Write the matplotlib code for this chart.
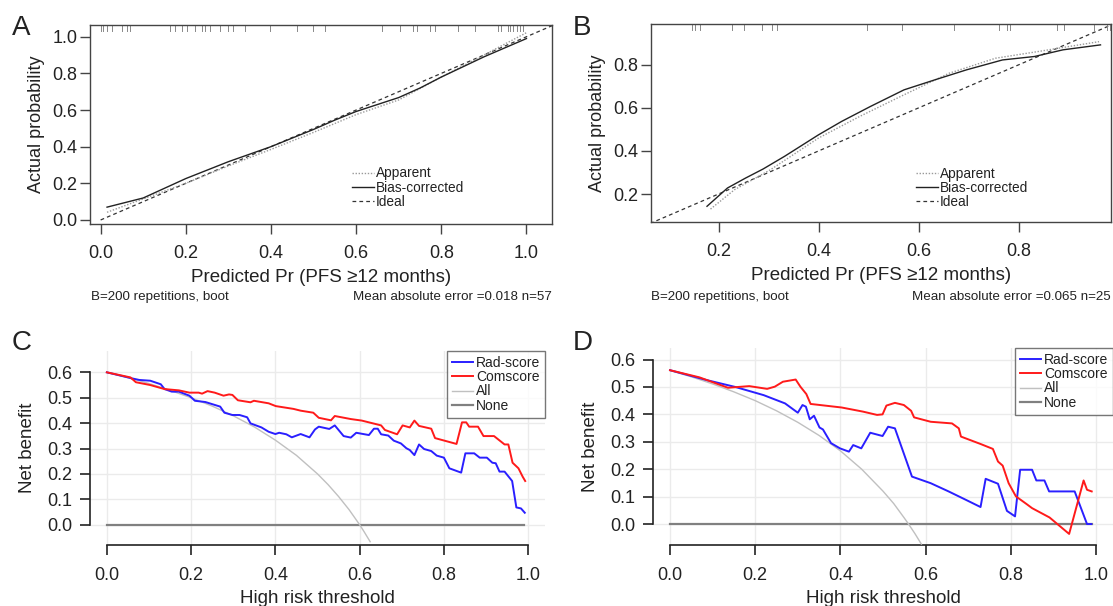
import matplotlib
matplotlib.use("Agg")
import matplotlib.pyplot as plt
import numpy as np

plt.rcParams['font.family'] = ['Liberation Sans', 'DejaVu Sans']

# ---- panel A: calibration, training set
a_rug = [0.002, 0.006, 0.014, 0.026, 0.049, 0.061, 0.069, 0.163, 0.174, 0.19, 0.202,
         0.221, 0.237, 0.245, 0.257, 0.28, 0.3, 0.311, 0.339, 0.397, 0.46, 0.499, 0.527,
         0.66, 0.703, 0.734, 0.742, 0.773, 0.785, 0.84, 0.879, 0.933, 0.941, 0.957,
         0.961, 0.969, 0.977, 0.984, 0.992]
a_bias_x = [0.015, 0.1, 0.2, 0.3, 0.4, 0.5, 0.55, 0.6, 0.65, 0.7, 0.75, 0.8, 0.9, 1.0]
a_bias_y = [0.07, 0.12, 0.226, 0.318, 0.40, 0.494, 0.545, 0.592, 0.63, 0.668, 0.72, 0.78, 0.89, 0.99]
a_app_x = [0.015, 0.1, 0.2, 0.3, 0.4, 0.5, 0.6, 0.7, 0.8, 0.9, 1.0]
a_app_y = [0.042, 0.115, 0.2, 0.295, 0.385, 0.478, 0.575, 0.655, 0.78, 0.9, 1.022]

# ---- panel B: calibration, validation set
b_rug = [0.146, 0.153, 0.163, 0.226, 0.25, 0.286, 0.306, 0.316, 0.496, 0.566, 0.67,
         0.76, 0.776, 0.783, 0.876, 0.89, 0.95, 0.976, 0.983]
b_bias_x = [0.177, 0.218, 0.254, 0.289, 0.332, 0.4, 0.446, 0.504, 0.571, 0.632, 0.696, 0.768, 0.832, 0.889, 0.964]
b_bias_y = [0.143, 0.228, 0.274, 0.316, 0.375, 0.475, 0.537, 0.607, 0.684, 0.73, 0.777, 0.823, 0.839, 0.87, 0.893]
b_app_x = [0.184, 0.232, 0.304, 0.4, 0.482, 0.571, 0.661, 0.754, 0.839, 0.961]
b_app_y = [0.13, 0.22, 0.313, 0.46, 0.56, 0.661, 0.761, 0.831, 0.862, 0.908]

# ---- panel C: decision curve, training set
c_rad_x = [0, 0.06, 0.077, 0.103, 0.128, 0.137, 0.154, 0.171, 0.196, 0.209, 0.234, 0.269, 0.279,
           0.298, 0.315, 0.333, 0.341, 0.367, 0.384, 0.4, 0.409, 0.426, 0.439, 0.46, 0.481, 0.494,
           0.503, 0.528, 0.541, 0.562, 0.579, 0.592, 0.622, 0.634, 0.643, 0.651, 0.668, 0.681,
           0.698, 0.711, 0.719, 0.73, 0.741, 0.753, 0.77, 0.783, 0.8, 0.813, 0.841, 0.851, 0.872,
           0.885, 0.902, 0.915, 0.923, 0.932, 0.944, 0.962, 0.972, 0.983, 0.992]
c_rad_y = [0.6, 0.576, 0.57, 0.567, 0.553, 0.534, 0.524, 0.524, 0.508, 0.488, 0.483, 0.465, 0.441,
           0.432, 0.432, 0.423, 0.399, 0.383, 0.366, 0.357, 0.362, 0.356, 0.344, 0.357, 0.344, 0.375,
           0.386, 0.377, 0.391, 0.349, 0.343, 0.362, 0.353, 0.378, 0.378, 0.356, 0.351, 0.331,
           0.32, 0.301, 0.294, 0.274, 0.316, 0.298, 0.29, 0.272, 0.264, 0.222, 0.205, 0.281, 0.281,
           0.264, 0.264, 0.244, 0.242, 0.209, 0.209, 0.172, 0.068, 0.064, 0.047]
c_com_x = [0, 0.056, 0.069, 0.103, 0.137, 0.171, 0.196, 0.218, 0.226, 0.239, 0.256, 0.277, 0.29,
           0.298, 0.311, 0.341, 0.349, 0.384, 0.401, 0.443, 0.46, 0.49, 0.503, 0.532, 0.541, 0.579,
           0.605, 0.651, 0.66, 0.689, 0.702, 0.719, 0.73, 0.741, 0.77, 0.779, 0.83, 0.843, 0.853,
           0.86, 0.881, 0.894, 0.919, 0.944, 0.953, 0.963, 0.977, 0.987, 0.993]
c_com_y = [0.6, 0.58, 0.561, 0.55, 0.534, 0.529, 0.52, 0.52, 0.516, 0.526, 0.52, 0.508, 0.513,
           0.511, 0.49, 0.482, 0.488, 0.478, 0.467, 0.456, 0.449, 0.441, 0.421, 0.411, 0.428, 0.416,
           0.41, 0.391, 0.373, 0.356, 0.391, 0.383, 0.41, 0.389, 0.378, 0.341, 0.318, 0.403, 0.403,
           0.386, 0.386, 0.349, 0.349, 0.316, 0.316, 0.244, 0.222, 0.189, 0.172]
c_all_x = [0, 0.05, 0.1, 0.15, 0.2, 0.25, 0.3, 0.35, 0.4, 0.45, 0.5, 0.525, 0.55, 0.575, 0.6, 0.61, 0.625]
c_all_y = [0.6, 0.579, 0.556, 0.529, 0.5, 0.467, 0.429, 0.385, 0.333, 0.273, 0.2, 0.158, 0.111, 0.059,
           0.0, -0.026, -0.067]

# ---- panel D: decision curve, validation set
d_rad_x = [0, 0.086, 0.153, 0.22, 0.27, 0.3, 0.311, 0.319, 0.328, 0.338, 0.351, 0.359, 0.378, 0.399,
           0.42, 0.43, 0.449, 0.47, 0.499, 0.512, 0.528, 0.568, 0.612, 0.654, 0.695, 0.729, 0.741,
           0.77, 0.791, 0.81, 0.822, 0.85, 0.86, 0.879, 0.89, 0.95, 0.979, 0.989]
d_rad_y = [0.561, 0.525, 0.5, 0.47, 0.44, 0.406, 0.434, 0.428, 0.382, 0.395, 0.352, 0.345, 0.295,
           0.276, 0.264, 0.288, 0.276, 0.333, 0.321, 0.355, 0.349, 0.173, 0.149, 0.119, 0.088, 0.062,
           0.165, 0.147, 0.048, 0.028, 0.198, 0.198, 0.159, 0.159, 0.119, 0.119, 0.0, 0.0]
d_com_x = [0, 0.069, 0.136, 0.186, 0.228, 0.246, 0.265, 0.295, 0.306, 0.32, 0.33, 0.403, 0.453, 0.486,
           0.499, 0.508, 0.528, 0.549, 0.566, 0.573, 0.612, 0.662, 0.678, 0.683, 0.729, 0.758, 0.77,
           0.781, 0.795, 0.812, 0.837, 0.85, 0.891, 0.937, 0.971, 0.979, 0.99]
d_com_y = [0.561, 0.535, 0.497, 0.503, 0.493, 0.501, 0.519, 0.527, 0.501, 0.474, 0.438, 0.425, 0.41,
           0.398, 0.4, 0.432, 0.442, 0.434, 0.413, 0.389, 0.373, 0.367, 0.349, 0.319, 0.292, 0.274,
           0.228, 0.213, 0.149, 0.101, 0.073, 0.058, 0.024, -0.036, 0.159, 0.125, 0.119]
d_all_x = [0, 0.05, 0.1, 0.15, 0.2, 0.25, 0.3, 0.35, 0.4, 0.45, 0.5, 0.525, 0.55, 0.56, 0.575, 0.59]
d_all_y = [0.56, 0.537, 0.511, 0.482, 0.45, 0.413, 0.371, 0.323, 0.267, 0.2, 0.12, 0.075, 0.022,
           0.0, -0.035, -0.073]

dc_ticks_x = [0.0, 0.2, 0.4, 0.6, 0.8, 1.0]
dc_ticks_y = [0.0, 0.1, 0.2, 0.3, 0.4, 0.5, 0.6]

fig = plt.figure(figsize=(11.13, 6.06), dpi=100)
W, H = 1113.0, 606.0


def box(l, t, r, b):
    return [l / W, 1 - b / H, (r - l) / W, (b - t) / H]


def calib(ax, rug, bx, by, apx, apy, xlim, ylim, xt, yt, legpos):
    ax.plot([0, 1.2], [0, 1.2], color='#333333', lw=0.9, ls=(0, (3, 2.5)), label='Ideal', zorder=2)
    ax.plot(apx, apy, color='#999999', lw=1.0, ls=(0, (1, 1.2)), label='Apparent', zorder=3)
    ax.plot(bx, by, color='#222222', lw=1.0, label='Bias-corrected', zorder=4)
    for r in rug:
        ax.plot([r, r], [0.97, 1.0], transform=ax.get_xaxis_transform(), color='#888888', lw=0.7)
    ax.set_xlim(*xlim)
    ax.set_ylim(*ylim)
    ax.set_xticks(xt)
    ax.set_yticks(yt)
    ax.set_xticklabels(['%.1f' % v for v in xt])
    ax.set_yticklabels(['%.1f' % v for v in yt])
    for s in ax.spines.values():
        s.set_color('#444444')
        s.set_linewidth(1.0)
    ax.tick_params(direction='out', length=7, width=1, color='#444444', labelsize=13,
                   labelcolor='#222222')
    ax.tick_params(axis='y', pad=2)
    ax.tick_params(axis='x', pad=8)
    ax.set_xlabel('Predicted Pr (PFS \u226512 months)', fontsize=13.5, color='#222222', labelpad=5)
    ax.set_ylabel('Actual probability', fontsize=13, color='#222222', labelpad=5)
    h, l = ax.get_legend_handles_labels()
    order = [1, 2, 0]
    ax.legend([h[i] for i in order], [l[i] for i in order], loc='upper left',
              bbox_to_anchor=legpos, frameon=False, fontsize=9.8, handlelength=1.6,
              handletextpad=0.15, labelspacing=0.02, borderpad=0, borderaxespad=0,
              labelcolor='#222222')


axA = fig.add_axes(box(90, 25, 552, 224))
calib(axA, a_rug, a_bias_x, a_bias_y, a_app_x, a_app_y, (-0.025, 1.06), (-0.022, 1.064),
      [0.0, 0.2, 0.4, 0.6, 0.8, 1.0], [0.0, 0.2, 0.4, 0.6, 0.8, 1.0], (0.567, 0.29))
axB = fig.add_axes(box(651, 24, 1111, 222))
calib(axB, b_rug, b_bias_x, b_bias_y, b_app_x, b_app_y, (0.065, 0.985), (0.07, 0.99),
      [0.2, 0.4, 0.6, 0.8], [0.2, 0.4, 0.6, 0.8], (0.577, 0.28))


def dca(ax, rx, ry, cx, cy, alx, aly, ylim):
    for v in dc_ticks_x:
        ax.axvline(v, color='#ebebeb', lw=1.0, zorder=0)
    for v in dc_ticks_y:
        ax.axhline(v, color='#ebebeb', lw=1.0, zorder=0)
    ax.plot(rx, ry, color='#2a1fff', lw=1.4, label='Rad-score', zorder=4)
    ax.plot(cx, cy, color='#ff1a1a', lw=1.4, label='Comscore', zorder=5)
    ax.plot(alx, aly, color='#c0c0c0', lw=1.0, label='All', zorder=3)
    ax.plot([0, 0.99], [0, 0], color='#808080', lw=1.6, label='None', zorder=2)
    ax.set_xlim(-0.04, 1.04)
    ax.set_ylim(*ylim)
    ax.set_xticks(dc_ticks_x)
    ax.set_yticks(dc_ticks_y)
    ax.set_xticklabels(['%.1f' % v for v in dc_ticks_x])
    ax.set_yticklabels(['%.1f' % v for v in dc_ticks_y])
    ax.spines['top'].set_visible(False)
    ax.spines['right'].set_visible(False)
    ax.spines['left'].set_bounds(0, 0.6)
    ax.spines['bottom'].set_bounds(0, 1)
    for s in ('left', 'bottom'):
        ax.spines[s].set_color('#222222')
        ax.spines[s].set_linewidth(1.2)
    ax.tick_params(direction='out', length=7, width=1.2, color='#222222', labelsize=13,
                   labelcolor='#222222')
    ax.tick_params(axis='y', pad=6)
    ax.tick_params(axis='x', pad=9)
    ax.set_xlabel('High risk threshold', fontsize=13.5, color='#222222', labelpad=4)
    ax.set_ylabel('Net benefit', fontsize=13.5, color='#222222', labelpad=8)
    leg = ax.legend(loc='upper right', fontsize=10, handlelength=1.5, handletextpad=0.2,
                    labelspacing=0.02, borderpad=0.35, borderaxespad=0, fancybox=False,
                    labelcolor='#222222')
    leg.get_frame().set_edgecolor('#555555')
    leg.get_frame().set_linewidth(1.0)


axC = fig.add_axes(box(90, 351, 545, 545))
dca(axC, c_rad_x, c_rad_y, c_com_x, c_com_y, c_all_x, c_all_y, (-0.08, 0.684))
axD = fig.add_axes(box(653, 348, 1113, 545))
dca(axD, d_rad_x, d_rad_y, d_com_x, d_com_y, d_all_x, d_all_y, (-0.0764, 0.642))

# footers of the calibration panels
fig.text(91 / W, 1 - 297 / H, 'B=200 repetitions, boot', fontsize=9.6, color='#222222', va='center')
fig.text(552 / W, 1 - 297 / H, 'Mean absolute error =0.018 n=57', fontsize=9.6, color='#222222',
         va='center', ha='right')
fig.text(651 / W, 1 - 297 / H, 'B=200 repetitions, boot', fontsize=9.6, color='#222222', va='center')
fig.text(1111 / W, 1 - 297 / H, 'Mean absolute error =0.065 n=25', fontsize=9.6, color='#222222',
         va='center', ha='right')

# panel letters
for lab, x, y in [('A', 12, 28), ('B', 573, 28), ('C', 12, 343), ('D', 573, 343)]:
    fig.text(x / W, 1 - y / H, lab, fontsize=20, color='#222222', va='center', ha='left')

fig.savefig('out.png', dpi=100)
